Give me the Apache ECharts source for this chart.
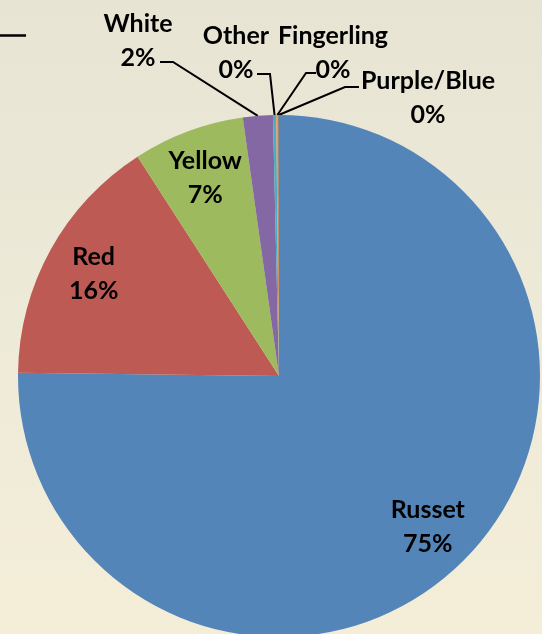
<!DOCTYPE html>
<html><head><meta charset="utf-8">
<script src="https://cdn.jsdelivr.net/npm/echarts@6/dist/echarts.min.js"></script>
<style>html,body{margin:0;padding:0;background:#EDE9D8;}#c{width:542px;height:634px;}</style>
</head><body><div id="c"></div>
<script>
// ---- data ----
const categories = ['Russet', 'Red', 'Yellow', 'White', 'Other', 'Fingerling', 'Purple/Blue'];
const shares = [75.25, 15.7, 6.9, 1.85, 0.2, 0.14, 0.03];
const sliceColors = ['#5485B9', '#BE5A54', '#9DBA5E', '#8468A4', '#4BACC6', '#F79646', '#2C4D75'];
const insideLabelIdx = [0, 1, 2];

// ---- layout (not data) ----
const CX = 279, CY = 376, R = 261;
const outsideLabelPlace = {
  3: { x: 138, y: 41, end: [160, 62], bend: [173, 62] },
  4: { x: 236, y: 53, end: [257, 74], bend: [270, 74] },
  5: { x: 333, y: 53, end: [316, 73], bend: [306, 73] },
  6: { x: 428, y: 98, end: [359, 87], bend: [345, 87] }
};
const FONT = { fontFamily: 'Lato', fontWeight: 'bold', fontSize: 25, lineHeight: 34, color: '#000' };

function pctText(p) { return Math.round(p.percent) + '%'; }

const mainData = categories.map((c, i) => ({
  name: c, value: shares[i],
  itemStyle: { color: sliceColors[i] },
  label: { show: !insideLabelIdx.includes(i) },
  labelLine: { show: !insideLabelIdx.includes(i) }
}));
const overlayData = categories.map((c, i) => ({
  name: c, value: shares[i],
  label: { show: insideLabelIdx.includes(i) }
}));

const chart = echarts.init(document.getElementById('c'), null, { renderer: 'canvas' });
chart.setOption({
  backgroundColor: {
    type: 'linear', x: 0, y: 0, x2: 0, y2: 1,
    colorStops: [{ offset: 0, color: '#E7E4D4' }, { offset: 0.5, color: '#EEEAD8' }, { offset: 1, color: '#F4EED8' }]
  },
  animation: false,
  graphic: [{
    type: 'line', shape: { x1: 0, y1: 35.5, x2: 26, y2: 35.5 },
    style: { stroke: '#000', lineWidth: 2.5 }
  }],
  series: [{
    type: 'pie',
    center: [CX, CY],
    radius: [0, R],
    startAngle: 90,
    clockwise: true,
    minAngle: 0,
    avoidLabelOverlap: false,
    silent: true,
    itemStyle: { borderWidth: 0 },
    label: Object.assign({ position: 'outside', formatter: p => p.name + '\n' + pctText(p) }, FONT),
    labelLine: { show: true, lineStyle: { color: '#000', width: 2 }, length: 10, length2: 10 },
    labelLayout: function (params) {
      const pl = outsideLabelPlace[params.dataIndex];
      if (!pl) return {};
      const p0 = params.labelLinePoints ? params.labelLinePoints[0] : [CX, CY - R];
      return {
        x: pl.x, y: pl.y, align: 'center', verticalAlign: 'middle',
        labelLinePoints: [p0, pl.bend, pl.end]
      };
    },
    data: mainData
  }, {
    type: 'pie',
    center: [CX, CY],
    radius: [R * 0.6, R],
    startAngle: 90,
    clockwise: true,
    silent: true,
    itemStyle: { color: 'rgba(0,0,0,0)', borderWidth: 0 },
    label: Object.assign({ position: 'inside', formatter: p => p.name + '\n' + pctText(p) }, FONT),
    labelLine: { show: false },
    data: overlayData
  }]
});
</script>
</body></html>
